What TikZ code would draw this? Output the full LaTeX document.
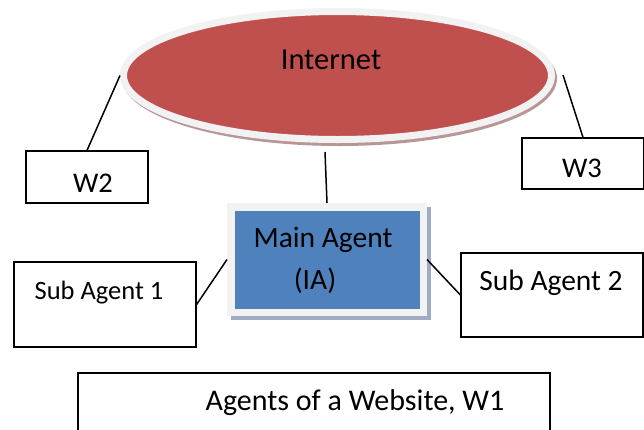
\documentclass[tikz,border=0pt]{standalone}
\usepackage{fontspec}
\setmainfont{Carlito}
\usetikzlibrary{shapes.geometric}
\definecolor{inetred}{RGB}{192,80,77}
\definecolor{ringgray}{RGB}{242,242,242}
\definecolor{inetshadow}{RGB}{185,150,150}
\definecolor{boxblue}{RGB}{79,129,189}
\definecolor{boxshadow}{RGB}{160,172,195}
\begin{document}
\begin{tikzpicture}[x=1pt,y=-1pt,
  plainbox/.style={draw=black, line width=1.2pt, inner sep=0pt},
  conn/.style={draw=black, line width=1.5pt},
  lbl/.style={font=\fontsize{29.5}{32}\selectfont, inner sep=0pt}]
\useasboundingbox (0,0) rectangle (644,429);
\fill[white] (0,0) rectangle (644,429);
% Internet ellipse with shadow
\fill[inetshadow] (339.5,78.5) ellipse [x radius=217.5, y radius=67.5];
\node[ellipse, fill=inetred, draw=ringgray, line width=7pt, minimum width=428pt, minimum height=128pt, inner sep=0pt] (inet) at (337.5,75.5) {};
\node[lbl, font=\fontsize{30.5}{33}\selectfont] (inettext) at (331,60) {Internet};
% Main agent box with shadow
\fill[boxshadow] (231,207) rectangle (431,320);
\node[rectangle, fill=boxblue, draw=ringgray, line width=7.5pt, minimum width=192.5pt, minimum height=105.5pt, inner sep=0pt] (main) at (327,259.5) {};
\node[lbl] (maintext1) at (323,240) {Main Agent};
\node[lbl] (maintext2) at (315,281) {(IA)};
% W2 and W3
\node[plainbox, minimum width=122pt, minimum height=52pt] (w2) at (87,177) {};
\node[lbl, font=\fontsize{28.5}{31}\selectfont] (w2text) at (93,183) {W2};
\node[plainbox, minimum width=122pt, minimum height=51pt] (w3) at (583,163.5) {};
\node[lbl, font=\fontsize{28.5}{31}\selectfont] (w3text) at (582,168) {W3};
% Sub agents
\node[plainbox, minimum width=182pt, minimum height=85pt] (sub1) at (105,304.5) {};
\node[lbl, font=\fontsize{26.5}{29}\selectfont] (sub1text) at (99,293) {Sub Agent 1};
\node[plainbox, minimum width=182pt, minimum height=84pt] (sub2) at (552,295) {};
\node[lbl] (sub2text) at (551,283) {Sub Agent 2};
% Bottom box
\node[plainbox, minimum width=472pt, minimum height=80pt] (site) at (314,413) {};
\node[lbl, font=\fontsize{30}{33}\selectfont] (sitetext) at (355,403) {Agents of a Website, W1};
% Connectors
\coordinate (w3top) at (563,75);
\coordinate (mainup) at (325,152);
\draw[conn] (inet.west) -- (w2.north);
\draw[conn] (w3top) -- (w3.north);
\draw[conn] (mainup) -- (main.north);
\draw[conn] (sub1.east) -- (main.west);
\draw[conn] (main.east) -- (sub2.west);
\end{tikzpicture}
\end{document}
